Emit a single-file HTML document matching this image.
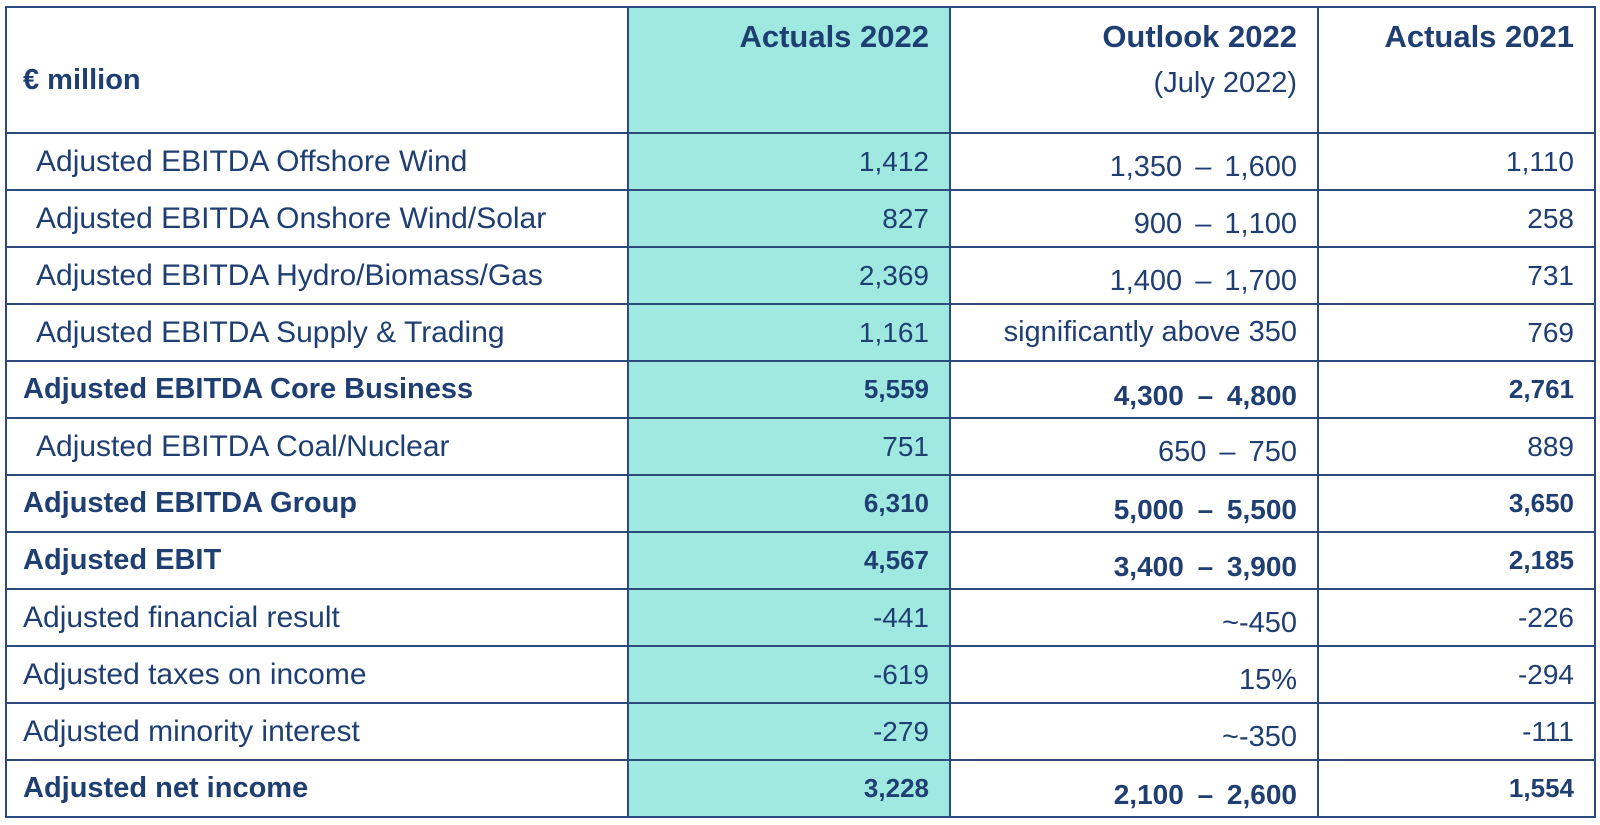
<!DOCTYPE html>
<html><head><style>
html,body{margin:0;padding:0;background:#fff;width:1600px;height:825px;overflow:hidden}
table{position:absolute;left:5px;top:6px;border-collapse:collapse;table-layout:fixed;font-family:"Liberation Sans",sans-serif;color:#1f3f73}
td{border:2px solid #2c4a7c;height:55px;padding:0 20px 0 0;text-align:right;font-size:28px;white-space:nowrap;overflow:hidden}
td.c1{background:#a0e9e1}
td.l{text-align:left;padding-left:29px;font-size:30px}
tr.b td{font-weight:bold;font-size:26px}
tr.b td.l{padding-left:16px;font-size:29px}
td.o span{position:relative;top:6px;font-size:29px;word-spacing:5px}
tr.b td.o span{font-size:28px;word-spacing:6px}
tr.h td{height:113px;vertical-align:top;font-weight:bold;font-size:31px;padding-top:11px}
</style></head><body>
<table>
<colgroup><col style="width:622px"><col style="width:322px"><col style="width:368px"><col style="width:277px"></colgroup>
<tr class="h"><td class="l" style="padding-left:16px;font-size:29px"><span style="position:relative;top:45px">€ million</span></td><td class="c1">Actuals 2022</td><td>Outlook 2022<br><span style="font-weight:normal;font-size:29px;line-height:56px">(July 2022)</span></td><td>Actuals 2021</td></tr>
<tr><td class="l">Adjusted EBITDA Offshore Wind</td><td class="c1">1,412</td><td class="o"><span>1,350 – 1,600</span></td><td>1,110</td></tr>
<tr><td class="l">Adjusted EBITDA Onshore Wind/Solar</td><td class="c1">827</td><td class="o"><span>900 – 1,100</span></td><td>258</td></tr>
<tr><td class="l">Adjusted EBITDA Hydro/Biomass/Gas</td><td class="c1">2,369</td><td class="o"><span>1,400 – 1,700</span></td><td>731</td></tr>
<tr><td class="l">Adjusted EBITDA Supply &amp; Trading</td><td class="c1">1,161</td><td style="font-size:29px">significantly above 350</td><td>769</td></tr>
<tr class="b"><td class="l">Adjusted EBITDA Core Business</td><td class="c1">5,559</td><td class="o"><span>4,300 – 4,800</span></td><td>2,761</td></tr>
<tr><td class="l">Adjusted EBITDA Coal/Nuclear</td><td class="c1">751</td><td class="o"><span>650 – 750</span></td><td>889</td></tr>
<tr class="b"><td class="l">Adjusted EBITDA Group</td><td class="c1">6,310</td><td class="o"><span>5,000 – 5,500</span></td><td>3,650</td></tr>
<tr class="b"><td class="l">Adjusted EBIT</td><td class="c1">4,567</td><td class="o"><span>3,400 – 3,900</span></td><td>2,185</td></tr>
<tr><td class="l" style="padding-left:16px">Adjusted financial result</td><td class="c1">-441</td><td class="o"><span>~-450</span></td><td>-226</td></tr>
<tr><td class="l" style="padding-left:16px">Adjusted taxes on income</td><td class="c1">-619</td><td class="o"><span>15%</span></td><td>-294</td></tr>
<tr><td class="l" style="padding-left:16px">Adjusted minority interest</td><td class="c1">-279</td><td class="o"><span>~-350</span></td><td>-111</td></tr>
<tr class="b"><td class="l">Adjusted net income</td><td class="c1">3,228</td><td class="o"><span>2,100 – 2,600</span></td><td>1,554</td></tr>
</table>
</body></html>
